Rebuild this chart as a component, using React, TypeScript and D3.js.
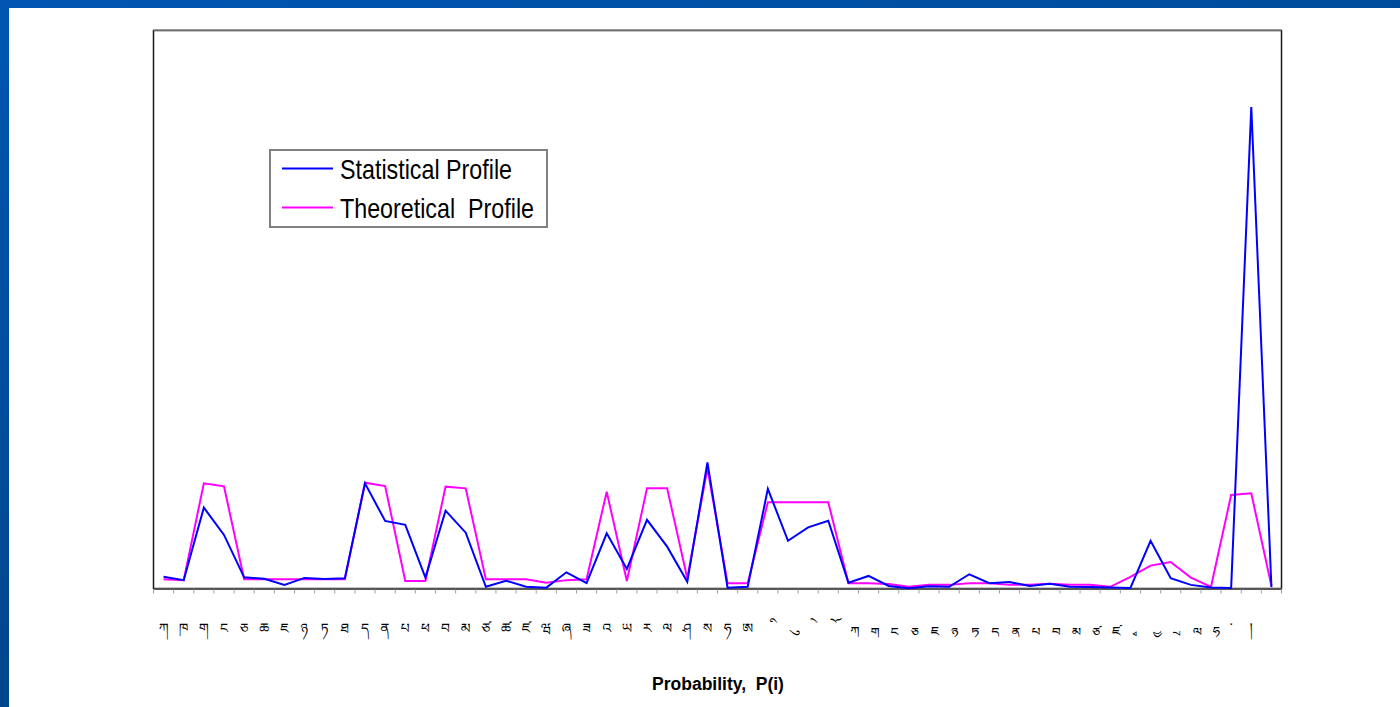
import React, { useEffect, useRef } from "react";
import * as d3 from "d3";

// Tibetan letters, vowel signs, subjoined letters, tsheg and shad; last slot has no label
const categories = [
  "ཀ", "ཁ", "ག", "ང", "ཅ", "ཆ", "ཇ", "ཉ", "ཏ", "ཐ", "ད", "ན", "པ", "ཕ", "བ", "མ",
  "ཙ", "ཚ", "ཛ", "ཝ", "ཞ", "ཟ", "འ", "ཡ", "ར", "ལ", "ཤ", "ས", "ཧ", "ཨ",
  "ི", "ུ", "ེ", "ོ",
  "ྐ", "ྒ", "ྔ", "ྕ", "ྗ", "ྙ", "ྟ", "ྡ", "ྣ", "ྤ", "ྦ", "ྨ", "ྩ", "ྫ", "ྭ", "ྱ", "ྲ", "ླ", "ྷ",
  "་", "།", "",
];

const statistical = [
  0.42, 0.30, 2.90, 1.92, 0.40, 0.35, 0.13, 0.38, 0.34, 0.37,
  3.77, 2.42, 2.28, 0.39, 2.79, 2.00, 0.06, 0.28, 0.06, 0.03,
  0.58, 0.19, 1.98, 0.70, 2.46, 1.50, 0.24, 4.52, 0.03, 0.06,
  3.57, 1.71, 2.19, 2.43, 0.21, 0.45, 0.09, 0.01, 0.08, 0.06,
  0.51, 0.19, 0.23, 0.09, 0.17, 0.06, 0.05, 0.04, 0.02, 1.71,
  0.37, 0.13, 0.04, 0.02, 17.26, 0.05,
];

const theoretical = [
  0.33, 0.30, 3.77, 3.66, 0.33, 0.33, 0.33, 0.33, 0.33, 0.33,
  3.79, 3.67, 0.27, 0.27, 3.65, 3.59, 0.33, 0.33, 0.33, 0.21,
  0.30, 0.33, 3.47, 0.27, 3.59, 3.59, 0.37, 4.31, 0.19, 0.19,
  3.09, 3.09, 3.09, 3.09, 0.19, 0.19, 0.16, 0.06, 0.13, 0.13,
  0.19, 0.19, 0.13, 0.13, 0.17, 0.13, 0.13, 0.06, 0.42, 0.82,
  0.95, 0.39, 0.06, 3.35, 3.41, 0.10,
];

const seriesNames = ["Statistical Profile", "Theoretical  Profile"];
const seriesColors = ["#0000ff", "#ff00ff"];
const yMax = 20;

// combining signs get a no-break space as base so no dotted circle is drawn
const isMark = (s: string) => {
  const c = s.codePointAt(0) ?? 0;
  return (c >= 0x0f71 && c <= 0x0f84) || (c >= 0x0f8d && c <= 0x0fbc);
};

export default function App() {
  const svgRef = useRef<SVGSVGElement>(null);

  useEffect(() => {
    const width = 1400;
    const height = 707;
    const plot = { left: 153.5, right: 1281.5, top: 30.5, bottom: 588.5 };

    const svg = d3.select(svgRef.current)
      .attr("width", width)
      .attr("height", height);
    svg.selectAll("*").remove();

    const defs = svg.append("defs");
    const gTop = defs.append("linearGradient").attr("id", "frameTop");
    gTop.append("stop").attr("offset", "0%").attr("stop-color", "#0056b2");
    gTop.append("stop").attr("offset", "100%").attr("stop-color", "#004c9c");
    const gLeft = defs.append("linearGradient").attr("id", "frameLeft")
      .attr("x1", 0).attr("y1", 0).attr("x2", 0).attr("y2", 1);
    gLeft.append("stop").attr("offset", "0%").attr("stop-color", "#0056b2");
    gLeft.append("stop").attr("offset", "100%").attr("stop-color", "#00468c");

    svg.append("rect").attr("width", width).attr("height", height).attr("fill", "#ffffff");
    svg.append("rect").attr("width", width).attr("height", 8).attr("fill", "url(#frameTop)");
    svg.append("rect").attr("width", 9).attr("height", height).attr("fill", "url(#frameLeft)");

    const xScale = d3.scaleBand<number>()
      .domain(d3.range(categories.length))
      .range([plot.left, plot.right])
      .padding(0);
    const xMid = (i: number) => (xScale(i) as number) + xScale.bandwidth() / 2;

    const yScale = d3.scaleLinear()
      .domain([0, yMax])
      .range([plot.bottom, plot.top]);

    // plot frame
    svg.append("rect")
      .attr("x", plot.left).attr("y", plot.top)
      .attr("width", plot.right - plot.left).attr("height", plot.bottom - plot.top)
      .attr("fill", "none").attr("stroke", "#1a1a1a").attr("stroke-width", 1.5);
    svg.append("line")
      .attr("x1", plot.left).attr("x2", plot.right)
      .attr("y1", plot.top - 0.5).attr("y2", plot.top - 0.5)
      .attr("stroke", "#8a8a8a").attr("stroke-width", 1.5);

    // bottom axis with ticks at category boundaries
    const xAxis = d3.axisBottom(xScale)
      .tickSize(0)
      .tickFormat(() => "");
    const axisG = svg.append("g")
      .attr("transform", `translate(0, ${plot.bottom})`)
      .call(xAxis);
    axisG.select(".domain").attr("stroke", "#555555").attr("stroke-width", 2);

    svg.append("g")
      .selectAll("line")
      .data(d3.range(categories.length + 1))
      .join("line")
      .attr("x1", (d) => plot.left + d * xScale.bandwidth())
      .attr("x2", (d) => plot.left + d * xScale.bandwidth())
      .attr("y1", plot.bottom + 1)
      .attr("y2", plot.bottom + 5)
      .attr("stroke", "#a0a0a0")
      .attr("stroke-width", 1);

    svg.append("g")
      .selectAll("text")
      .data(categories)
      .join("text")
      .attr("x", (d, i) => xMid(i))
      .attr("y", 633)
      .attr("text-anchor", "middle")
      .attr("font-family", "'Noto Sans Tibetan', 'Noto Serif Tibetan', Jomolhari, 'Microsoft Himalaya', 'DejaVu Sans', sans-serif")
      .attr("font-size", 14)
      .attr("fill", "#000000")
      .text((d) => (isMark(d) ? "\u00a0" + d : d));

    svg.append("text")
      .attr("x", 718)
      .attr("y", 690)
      .attr("text-anchor", "middle")
      .attr("font-family", "'Liberation Sans', Arial, sans-serif")
      .attr("font-weight", "bold")
      .attr("font-size", 17.5)
      .attr("fill", "#000000")
      .style("white-space", "pre")
      .text("Probability,  P(i)");

    const line = d3.line<number>()
      .x((d, i) => xMid(i))
      .y((d) => yScale(d));

    const series = [statistical, theoretical];
    // theoretical drawn first, statistical on top
    [1, 0].forEach((s) => {
      svg.append("path")
        .datum(series[s])
        .attr("d", line)
        .attr("fill", "none")
        .attr("stroke", seriesColors[s])
        .attr("stroke-width", 2)
        .attr("stroke-linejoin", "miter");
    });

    // legend
    const legend = svg.append("g").attr("transform", "translate(270, 150)");
    legend.append("rect")
      .attr("width", 277).attr("height", 77)
      .attr("fill", "#ffffff")
      .attr("stroke", "#808080")
      .attr("stroke-width", 2);
    seriesNames.forEach((name, i) => {
      const cy = 18.5 + i * 39;
      legend.append("line")
        .attr("x1", 12).attr("x2", 63)
        .attr("y1", cy).attr("y2", cy)
        .attr("stroke", seriesColors[i])
        .attr("stroke-width", 2);
      legend.append("text")
        .attr("x", 70)
        .attr("y", cy + 10)
        .attr("font-family", "'Liberation Sans Narrow', 'Arial Narrow', 'Liberation Sans', sans-serif")
        .attr("font-size", 28)
        .attr("fill", "#000000")
        .attr("textLength", i === 0 ? 172 : 194)
        .attr("lengthAdjust", "spacingAndGlyphs")
        .style("white-space", "pre")
        .text(name);
    });
  }, []);

  return (
    <div style={{ position: "absolute", left: 0, top: 0 }}>
      <svg ref={svgRef} style={{ display: "block" }}></svg>
    </div>
  );
}
